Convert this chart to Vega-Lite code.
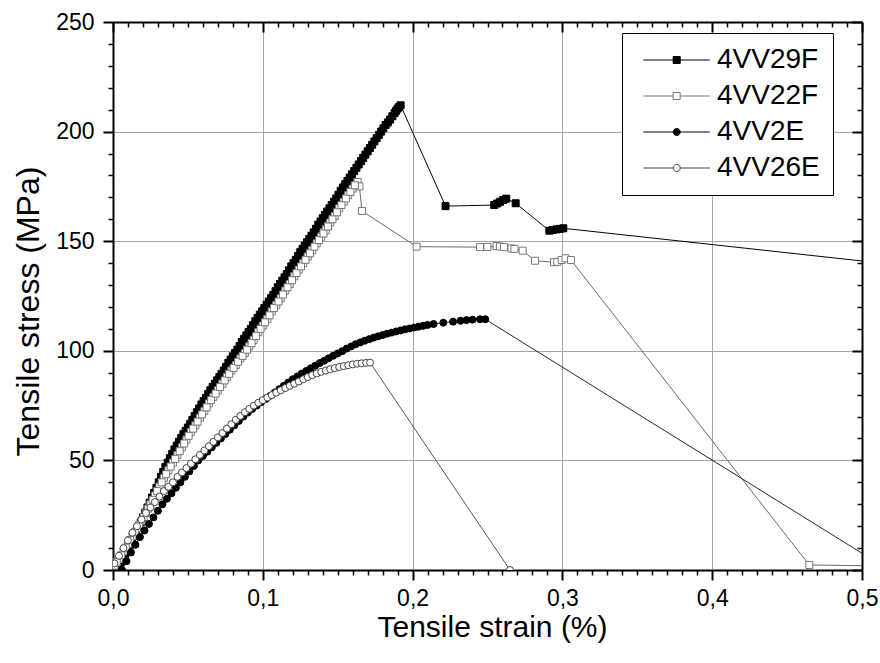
{
  "$schema": "https://vega.github.io/schema/vega-lite/v6.json",
  "width": 749,
  "height": 548,
  "autosize": {"type": "none"},
  "padding": {"left": 113, "top": 22, "right": 18, "bottom": 93},
  "background": "white",
  "config": {"view": {"stroke": null}, "font": "Liberation Sans"},
  "data": {"values": [
    {"s":"4VV29F","x":0.002,"y":0},{"s":"4VV29F","x":0.005,"y":3.5},{"s":"4VV29F","x":0.008,"y":7.5},{"s":"4VV29F","x":0.011,"y":11.5},{"s":"4VV29F","x":0.014,"y":15.5},{"s":"4VV29F","x":0.017,"y":19.5},{"s":"4VV29F","x":0.020,"y":24},{"s":"4VV29F","x":0.023,"y":28.5},{"s":"4VV29F","x":0.026,"y":33},{"s":"4VV29F","x":0.029,"y":37.5},{"s":"4VV29F","x":0.032,"y":42.5},{"s":"4VV29F","x":0.035,"y":47},{"s":"4VV29F","x":0.038,"y":51},{"s":"4VV29F","x":0.041,"y":55},{"s":"4VV29F","x":0.044,"y":58.5},{"s":"4VV29F","x":0.047,"y":62},{"s":"4VV29F","x":0.050,"y":65},{"s":"4VV29F","x":0.053,"y":68.5},{"s":"4VV29F","x":0.056,"y":72},{"s":"4VV29F","x":0.059,"y":75.5},{"s":"4VV29F","x":0.062,"y":78.5},{"s":"4VV29F","x":0.065,"y":82},{"s":"4VV29F","x":0.068,"y":85},{"s":"4VV29F","x":0.071,"y":88},{"s":"4VV29F","x":0.074,"y":91},{"s":"4VV29F","x":0.077,"y":94.5},{"s":"4VV29F","x":0.080,"y":97.5},{"s":"4VV29F","x":0.083,"y":100.5},{"s":"4VV29F","x":0.086,"y":104},{"s":"4VV29F","x":0.089,"y":107},{"s":"4VV29F","x":0.092,"y":110},{"s":"4VV29F","x":0.095,"y":113.5},{"s":"4VV29F","x":0.098,"y":116.5},{"s":"4VV29F","x":0.101,"y":119.5},{"s":"4VV29F","x":0.104,"y":122.5},{"s":"4VV29F","x":0.107,"y":125.5},{"s":"4VV29F","x":0.110,"y":129},{"s":"4VV29F","x":0.113,"y":132},{"s":"4VV29F","x":0.116,"y":135},{"s":"4VV29F","x":0.119,"y":138.5},{"s":"4VV29F","x":0.122,"y":141.5},{"s":"4VV29F","x":0.125,"y":145},{"s":"4VV29F","x":0.128,"y":148},{"s":"4VV29F","x":0.131,"y":151},{"s":"4VV29F","x":0.134,"y":154},{"s":"4VV29F","x":0.137,"y":157.5},{"s":"4VV29F","x":0.140,"y":160.5},{"s":"4VV29F","x":0.143,"y":163.5},{"s":"4VV29F","x":0.146,"y":166.5},{"s":"4VV29F","x":0.149,"y":169.5},{"s":"4VV29F","x":0.152,"y":173},{"s":"4VV29F","x":0.155,"y":176},{"s":"4VV29F","x":0.158,"y":179},{"s":"4VV29F","x":0.161,"y":182},{"s":"4VV29F","x":0.164,"y":185},{"s":"4VV29F","x":0.167,"y":188},{"s":"4VV29F","x":0.170,"y":191},{"s":"4VV29F","x":0.173,"y":194},{"s":"4VV29F","x":0.176,"y":197},{"s":"4VV29F","x":0.179,"y":200},{"s":"4VV29F","x":0.182,"y":203},{"s":"4VV29F","x":0.185,"y":205.5},{"s":"4VV29F","x":0.188,"y":208.5},{"s":"4VV29F","x":0.190,"y":210.5},{"s":"4VV29F","x":0.192,"y":212},{"s":"4VV29F","x":0.222,"y":166},{"s":"4VV29F","x":0.2545,"y":166.5},{"s":"4VV29F","x":0.2565,"y":167.2},{"s":"4VV29F","x":0.2585,"y":168},{"s":"4VV29F","x":0.2605,"y":168.8},{"s":"4VV29F","x":0.2625,"y":169.4},{"s":"4VV29F","x":0.2688,"y":167.3},{"s":"4VV29F","x":0.2913,"y":154.8},{"s":"4VV29F","x":0.2935,"y":155.1},{"s":"4VV29F","x":0.2962,"y":155.4},{"s":"4VV29F","x":0.2985,"y":155.6},{"s":"4VV29F","x":0.3006,"y":155.9},{"s":"4VV29F","x":0.62,"y":132},
    {"s":"4VV29F","x":0.0035,"y":1.7},{"s":"4VV29F","x":0.0065,"y":5.5},{"s":"4VV29F","x":0.0095,"y":9.5},{"s":"4VV29F","x":0.0125,"y":13.5},{"s":"4VV29F","x":0.0155,"y":17.5},{"s":"4VV29F","x":0.0185,"y":21.7},{"s":"4VV29F","x":0.0215,"y":26.2},{"s":"4VV29F","x":0.0245,"y":30.7},{"s":"4VV29F","x":0.0275,"y":35.2},{"s":"4VV29F","x":0.0305,"y":40},{"s":"4VV29F","x":0.0335,"y":44.7},{"s":"4VV29F","x":0.0365,"y":49},{"s":"4VV29F","x":0.0395,"y":53},{"s":"4VV29F","x":0.0425,"y":56.7},{"s":"4VV29F","x":0.0455,"y":60.2},{"s":"4VV29F","x":0.0485,"y":63.5},{"s":"4VV29F","x":0.0515,"y":66.7},{"s":"4VV29F","x":0.0545,"y":70.2},{"s":"4VV29F","x":0.0575,"y":73.7},{"s":"4VV29F","x":0.0605,"y":77},{"s":"4VV29F","x":0.0635,"y":80.2},{"s":"4VV29F","x":0.0665,"y":83.5},{"s":"4VV29F","x":0.0695,"y":86.5},{"s":"4VV29F","x":0.0725,"y":89.5},{"s":"4VV29F","x":0.0755,"y":92.7},{"s":"4VV29F","x":0.0785,"y":96},{"s":"4VV29F","x":0.0815,"y":99},{"s":"4VV29F","x":0.0845,"y":102.2},{"s":"4VV29F","x":0.0875,"y":105.5},{"s":"4VV29F","x":0.0905,"y":108.5},{"s":"4VV29F","x":0.0935,"y":111.7},{"s":"4VV29F","x":0.0965,"y":115},{"s":"4VV29F","x":0.0995,"y":118},{"s":"4VV29F","x":0.1025,"y":121},{"s":"4VV29F","x":0.1055,"y":124},{"s":"4VV29F","x":0.1085,"y":127.2},{"s":"4VV29F","x":0.1115,"y":130.5},{"s":"4VV29F","x":0.1145,"y":133.5},{"s":"4VV29F","x":0.1175,"y":136.7},{"s":"4VV29F","x":0.1205,"y":140},{"s":"4VV29F","x":0.1235,"y":143.2},{"s":"4VV29F","x":0.1265,"y":146.5},{"s":"4VV29F","x":0.1295,"y":149.5},{"s":"4VV29F","x":0.1325,"y":152.5},{"s":"4VV29F","x":0.1355,"y":155.7},{"s":"4VV29F","x":0.1385,"y":159},{"s":"4VV29F","x":0.1415,"y":162},{"s":"4VV29F","x":0.1445,"y":165},{"s":"4VV29F","x":0.1475,"y":168},{"s":"4VV29F","x":0.1505,"y":171.2},{"s":"4VV29F","x":0.1535,"y":174.5},{"s":"4VV29F","x":0.1565,"y":177.5},{"s":"4VV29F","x":0.1595,"y":180.5},{"s":"4VV29F","x":0.1625,"y":183.5},{"s":"4VV29F","x":0.1655,"y":186.5},{"s":"4VV29F","x":0.1685,"y":189.5},{"s":"4VV29F","x":0.1715,"y":192.5},{"s":"4VV29F","x":0.1745,"y":195.5},{"s":"4VV29F","x":0.1775,"y":198.5},{"s":"4VV29F","x":0.1805,"y":201.5},{"s":"4VV29F","x":0.1835,"y":204.2},{"s":"4VV29F","x":0.1865,"y":207},{"s":"4VV29F","x":0.189,"y":209.5},{"s":"4VV29F","x":0.191,"y":211.2},
    {"s":"4VV22F","x":0.001,"y":2},{"s":"4VV22F","x":0.004,"y":5},{"s":"4VV22F","x":0.007,"y":8.5},{"s":"4VV22F","x":0.010,"y":12},{"s":"4VV22F","x":0.013,"y":15.5},{"s":"4VV22F","x":0.016,"y":19},{"s":"4VV22F","x":0.019,"y":22.5},{"s":"4VV22F","x":0.022,"y":26},{"s":"4VV22F","x":0.025,"y":30},{"s":"4VV22F","x":0.028,"y":34},{"s":"4VV22F","x":0.031,"y":38},{"s":"4VV22F","x":0.034,"y":42},{"s":"4VV22F","x":0.037,"y":45.5},{"s":"4VV22F","x":0.040,"y":49},{"s":"4VV22F","x":0.043,"y":52.5},{"s":"4VV22F","x":0.046,"y":56},{"s":"4VV22F","x":0.049,"y":59.5},{"s":"4VV22F","x":0.052,"y":63},{"s":"4VV22F","x":0.055,"y":66},{"s":"4VV22F","x":0.058,"y":69.5},{"s":"4VV22F","x":0.061,"y":72.5},{"s":"4VV22F","x":0.064,"y":76},{"s":"4VV22F","x":0.067,"y":79},{"s":"4VV22F","x":0.070,"y":82},{"s":"4VV22F","x":0.073,"y":85},{"s":"4VV22F","x":0.076,"y":88},{"s":"4VV22F","x":0.079,"y":91},{"s":"4VV22F","x":0.082,"y":93.5},{"s":"4VV22F","x":0.085,"y":96.5},{"s":"4VV22F","x":0.088,"y":99},{"s":"4VV22F","x":0.091,"y":102},{"s":"4VV22F","x":0.094,"y":105},{"s":"4VV22F","x":0.097,"y":108.5},{"s":"4VV22F","x":0.100,"y":111.5},{"s":"4VV22F","x":0.103,"y":114.5},{"s":"4VV22F","x":0.106,"y":118},{"s":"4VV22F","x":0.109,"y":121},{"s":"4VV22F","x":0.112,"y":124},{"s":"4VV22F","x":0.115,"y":127.5},{"s":"4VV22F","x":0.118,"y":130.5},{"s":"4VV22F","x":0.121,"y":134},{"s":"4VV22F","x":0.124,"y":137},{"s":"4VV22F","x":0.127,"y":140},{"s":"4VV22F","x":0.130,"y":143},{"s":"4VV22F","x":0.133,"y":146},{"s":"4VV22F","x":0.136,"y":149},{"s":"4VV22F","x":0.139,"y":152},{"s":"4VV22F","x":0.142,"y":155},{"s":"4VV22F","x":0.145,"y":158.5},{"s":"4VV22F","x":0.148,"y":161.5},{"s":"4VV22F","x":0.151,"y":165},{"s":"4VV22F","x":0.154,"y":168},{"s":"4VV22F","x":0.157,"y":171},{"s":"4VV22F","x":0.160,"y":174},{"s":"4VV22F","x":0.1633,"y":177},{"s":"4VV22F","x":0.1645,"y":175},{"s":"4VV22F","x":0.1662,"y":163.8},{"s":"4VV22F","x":0.2027,"y":147.5},{"s":"4VV22F","x":0.245,"y":147.3},{"s":"4VV22F","x":0.2499,"y":147.4},{"s":"4VV22F","x":0.256,"y":147.8},{"s":"4VV22F","x":0.2583,"y":147.6},{"s":"4VV22F","x":0.261,"y":147.3},{"s":"4VV22F","x":0.266,"y":146.7},{"s":"4VV22F","x":0.268,"y":146.5},{"s":"4VV22F","x":0.2735,"y":145.7},{"s":"4VV22F","x":0.2817,"y":141.1},{"s":"4VV22F","x":0.2944,"y":140.4},{"s":"4VV22F","x":0.2966,"y":140.6},{"s":"4VV22F","x":0.2995,"y":141.4},{"s":"4VV22F","x":0.3021,"y":142.2},{"s":"4VV22F","x":0.3057,"y":141.4},{"s":"4VV22F","x":0.4648,"y":2.3},{"s":"4VV22F","x":0.55,"y":1.5},
    {"s":"4VV22F","x":0.0025,"y":3.5},{"s":"4VV22F","x":0.0055,"y":6.7},{"s":"4VV22F","x":0.0085,"y":10.2},{"s":"4VV22F","x":0.0115,"y":13.7},{"s":"4VV22F","x":0.0145,"y":17.2},{"s":"4VV22F","x":0.0175,"y":20.7},{"s":"4VV22F","x":0.0205,"y":24.2},{"s":"4VV22F","x":0.0235,"y":28},{"s":"4VV22F","x":0.0265,"y":32},{"s":"4VV22F","x":0.0295,"y":36},{"s":"4VV22F","x":0.0325,"y":40},{"s":"4VV22F","x":0.0355,"y":43.7},{"s":"4VV22F","x":0.0385,"y":47.2},{"s":"4VV22F","x":0.0415,"y":50.7},{"s":"4VV22F","x":0.0445,"y":54.2},{"s":"4VV22F","x":0.0475,"y":57.7},{"s":"4VV22F","x":0.0505,"y":61.2},{"s":"4VV22F","x":0.0535,"y":64.5},{"s":"4VV22F","x":0.0565,"y":67.7},{"s":"4VV22F","x":0.0595,"y":71},{"s":"4VV22F","x":0.0625,"y":74.2},{"s":"4VV22F","x":0.0655,"y":77.5},{"s":"4VV22F","x":0.0685,"y":80.5},{"s":"4VV22F","x":0.0715,"y":83.5},{"s":"4VV22F","x":0.0745,"y":86.5},{"s":"4VV22F","x":0.0775,"y":89.5},{"s":"4VV22F","x":0.0805,"y":92.2},{"s":"4VV22F","x":0.0835,"y":95},{"s":"4VV22F","x":0.0865,"y":97.7},{"s":"4VV22F","x":0.0895,"y":100.5},{"s":"4VV22F","x":0.0925,"y":103.5},{"s":"4VV22F","x":0.0955,"y":106.7},{"s":"4VV22F","x":0.0985,"y":110},{"s":"4VV22F","x":0.1015,"y":113},{"s":"4VV22F","x":0.1045,"y":116.2},{"s":"4VV22F","x":0.1075,"y":119.5},{"s":"4VV22F","x":0.1105,"y":122.5},{"s":"4VV22F","x":0.1135,"y":125.7},{"s":"4VV22F","x":0.1165,"y":129},{"s":"4VV22F","x":0.1195,"y":132.2},{"s":"4VV22F","x":0.1225,"y":135.5},{"s":"4VV22F","x":0.1255,"y":138.5},{"s":"4VV22F","x":0.1285,"y":141.5},{"s":"4VV22F","x":0.1315,"y":144.5},{"s":"4VV22F","x":0.1345,"y":147.5},{"s":"4VV22F","x":0.1375,"y":150.5},{"s":"4VV22F","x":0.1405,"y":153.5},{"s":"4VV22F","x":0.1435,"y":156.7},{"s":"4VV22F","x":0.1465,"y":160},{"s":"4VV22F","x":0.1495,"y":163.2},{"s":"4VV22F","x":0.1525,"y":166.5},{"s":"4VV22F","x":0.1555,"y":169.5},{"s":"4VV22F","x":0.1585,"y":172.5},{"s":"4VV22F","x":0.1615,"y":175.5},
    {"s":"4VV2E","x":0.006,"y":0},{"s":"4VV2E","x":0.009,"y":4},{"s":"4VV2E","x":0.012,"y":8},{"s":"4VV2E","x":0.015,"y":11.5},{"s":"4VV2E","x":0.018,"y":15},{"s":"4VV2E","x":0.021,"y":18},{"s":"4VV2E","x":0.024,"y":21},{"s":"4VV2E","x":0.027,"y":24},{"s":"4VV2E","x":0.030,"y":27},{"s":"4VV2E","x":0.033,"y":30},{"s":"4VV2E","x":0.036,"y":32.5},{"s":"4VV2E","x":0.039,"y":35},{"s":"4VV2E","x":0.042,"y":37.5},{"s":"4VV2E","x":0.045,"y":40},{"s":"4VV2E","x":0.048,"y":42.5},{"s":"4VV2E","x":0.051,"y":45},{"s":"4VV2E","x":0.054,"y":47.5},{"s":"4VV2E","x":0.057,"y":50},{"s":"4VV2E","x":0.060,"y":52},{"s":"4VV2E","x":0.063,"y":54},{"s":"4VV2E","x":0.066,"y":56},{"s":"4VV2E","x":0.069,"y":58},{"s":"4VV2E","x":0.072,"y":60},{"s":"4VV2E","x":0.075,"y":62},{"s":"4VV2E","x":0.078,"y":64},{"s":"4VV2E","x":0.081,"y":66},{"s":"4VV2E","x":0.084,"y":68},{"s":"4VV2E","x":0.087,"y":70},{"s":"4VV2E","x":0.090,"y":71.8},{"s":"4VV2E","x":0.093,"y":73.5},{"s":"4VV2E","x":0.096,"y":75},{"s":"4VV2E","x":0.099,"y":76.6},{"s":"4VV2E","x":0.102,"y":78},{"s":"4VV2E","x":0.105,"y":79.5},{"s":"4VV2E","x":0.108,"y":81},{"s":"4VV2E","x":0.111,"y":82.5},{"s":"4VV2E","x":0.114,"y":84},{"s":"4VV2E","x":0.117,"y":85.5},{"s":"4VV2E","x":0.120,"y":87},{"s":"4VV2E","x":0.123,"y":88.3},{"s":"4VV2E","x":0.126,"y":89.6},{"s":"4VV2E","x":0.129,"y":90.8},{"s":"4VV2E","x":0.132,"y":92},{"s":"4VV2E","x":0.135,"y":93.2},{"s":"4VV2E","x":0.138,"y":94.4},{"s":"4VV2E","x":0.141,"y":95.5},{"s":"4VV2E","x":0.144,"y":96.6},{"s":"4VV2E","x":0.147,"y":97.7},{"s":"4VV2E","x":0.150,"y":98.8},{"s":"4VV2E","x":0.153,"y":99.8},{"s":"4VV2E","x":0.156,"y":101},{"s":"4VV2E","x":0.159,"y":102},{"s":"4VV2E","x":0.162,"y":103},{"s":"4VV2E","x":0.165,"y":103.8},{"s":"4VV2E","x":0.168,"y":104.6},{"s":"4VV2E","x":0.171,"y":105.3},{"s":"4VV2E","x":0.174,"y":106},{"s":"4VV2E","x":0.177,"y":106.6},{"s":"4VV2E","x":0.180,"y":107.2},{"s":"4VV2E","x":0.183,"y":107.8},{"s":"4VV2E","x":0.186,"y":108.3},{"s":"4VV2E","x":0.189,"y":108.8},{"s":"4VV2E","x":0.192,"y":109.3},{"s":"4VV2E","x":0.195,"y":109.8},{"s":"4VV2E","x":0.198,"y":110.2},{"s":"4VV2E","x":0.201,"y":110.6},{"s":"4VV2E","x":0.204,"y":111},{"s":"4VV2E","x":0.207,"y":111.4},{"s":"4VV2E","x":0.210,"y":111.8},{"s":"4VV2E","x":0.214,"y":112.2},{"s":"4VV2E","x":0.2205,"y":112.8},{"s":"4VV2E","x":0.227,"y":113.3},{"s":"4VV2E","x":0.232,"y":113.7},{"s":"4VV2E","x":0.236,"y":114},{"s":"4VV2E","x":0.240,"y":114.2},{"s":"4VV2E","x":0.245,"y":114.4},{"s":"4VV2E","x":0.2485,"y":114.4},{"s":"4VV2E","x":0.518,"y":0},
    {"s":"4VV26E","x":0.001,"y":3},{"s":"4VV26E","x":0.004,"y":6.5},{"s":"4VV26E","x":0.007,"y":10},{"s":"4VV26E","x":0.010,"y":13.5},{"s":"4VV26E","x":0.013,"y":17},{"s":"4VV26E","x":0.016,"y":20},{"s":"4VV26E","x":0.019,"y":23},{"s":"4VV26E","x":0.022,"y":26},{"s":"4VV26E","x":0.025,"y":28.5},{"s":"4VV26E","x":0.028,"y":31},{"s":"4VV26E","x":0.031,"y":33.5},{"s":"4VV26E","x":0.034,"y":36},{"s":"4VV26E","x":0.037,"y":38},{"s":"4VV26E","x":0.040,"y":40},{"s":"4VV26E","x":0.043,"y":42.5},{"s":"4VV26E","x":0.046,"y":44.5},{"s":"4VV26E","x":0.049,"y":46.5},{"s":"4VV26E","x":0.052,"y":48.5},{"s":"4VV26E","x":0.055,"y":50.5},{"s":"4VV26E","x":0.058,"y":52.5},{"s":"4VV26E","x":0.061,"y":54.5},{"s":"4VV26E","x":0.064,"y":56.5},{"s":"4VV26E","x":0.067,"y":58.5},{"s":"4VV26E","x":0.070,"y":60.5},{"s":"4VV26E","x":0.073,"y":62.5},{"s":"4VV26E","x":0.076,"y":64.5},{"s":"4VV26E","x":0.079,"y":66.5},{"s":"4VV26E","x":0.082,"y":68.5},{"s":"4VV26E","x":0.085,"y":70.3},{"s":"4VV26E","x":0.088,"y":72},{"s":"4VV26E","x":0.091,"y":73.5},{"s":"4VV26E","x":0.094,"y":75},{"s":"4VV26E","x":0.097,"y":76.3},{"s":"4VV26E","x":0.100,"y":77.5},{"s":"4VV26E","x":0.103,"y":78.7},{"s":"4VV26E","x":0.106,"y":79.8},{"s":"4VV26E","x":0.109,"y":80.9},{"s":"4VV26E","x":0.112,"y":82},{"s":"4VV26E","x":0.115,"y":83},{"s":"4VV26E","x":0.118,"y":84},{"s":"4VV26E","x":0.121,"y":85},{"s":"4VV26E","x":0.124,"y":86},{"s":"4VV26E","x":0.127,"y":87},{"s":"4VV26E","x":0.130,"y":88},{"s":"4VV26E","x":0.133,"y":88.9},{"s":"4VV26E","x":0.136,"y":89.7},{"s":"4VV26E","x":0.139,"y":90.4},{"s":"4VV26E","x":0.142,"y":91},{"s":"4VV26E","x":0.145,"y":91.6},{"s":"4VV26E","x":0.148,"y":92.1},{"s":"4VV26E","x":0.151,"y":92.6},{"s":"4VV26E","x":0.154,"y":93},{"s":"4VV26E","x":0.157,"y":93.4},{"s":"4VV26E","x":0.160,"y":93.8},{"s":"4VV26E","x":0.163,"y":94.1},{"s":"4VV26E","x":0.166,"y":94.3},{"s":"4VV26E","x":0.169,"y":94.5},{"s":"4VV26E","x":0.1716,"y":94.6},{"s":"4VV26E","x":0.265,"y":0}
  ]},
  "resolve": {"scale": {"x": "shared", "y": "shared"}, "axis": {"x": "independent", "y": "independent"}},
  "layer": [
    {
      "mark": {"type": "line", "strokeWidth": 1, "clip": true},
      "encoding": {
        "x": {"field": "x", "type": "quantitative", "scale": {"domain": [0, 0.5], "nice": false, "zero": false},
          "axis": {"orient": "bottom", "values": [0, 0.1, 0.2, 0.3, 0.4, 0.5], "labelExpr": "replace(format(datum.value, '.1f'), '.', ',')",
            "labelFlush": false, "labelOverlap": false, "labelFontSize": 23, "labelFont": "Liberation Sans", "labelColor": "black", "labelPadding": 7,
            "tickSize": 10, "tickWidth": 2, "tickColor": "black", "domainWidth": 2, "domainColor": "black",
            "grid": true, "gridColor": "#a6a6a6", "gridWidth": 1,
            "title": "Tensile strain (%)", "titleFont": "Liberation Sans", "titleFontSize": 30, "titleFontWeight": "normal", "titleColor": "black", "titlePadding": 2, "titleX": 379}},
        "y": {"field": "y", "type": "quantitative", "scale": {"domain": [0, 250], "nice": false},
          "axis": {"orient": "left", "values": [0, 50, 100, 150, 200, 250],
            "labelFlush": false, "labelOverlap": false, "labelFontSize": 23, "labelFont": "Liberation Sans", "labelColor": "black", "labelPadding": 9,
            "tickSize": 10, "tickWidth": 2, "tickColor": "black", "domainWidth": 2, "domainColor": "black",
            "grid": true, "gridColor": "#a6a6a6", "gridWidth": 1,
            "title": "Tensile stress (MPa)", "titleFont": "Liberation Sans", "titleFontSize": 32, "titleFontWeight": "normal", "titleColor": "black", "titlePadding": 10, "titleY": 289}},
        "detail": {"field": "s", "type": "nominal"},
        "color": {"condition": [{"test": "datum.s === '4VV22F'", "value": "#6a6a6a"}, {"test": "datum.s === '4VV26E'", "value": "#555555"}, {"test": "datum.s === '4VV2E'", "value": "#262626"}], "value": "#000000"}
      }
    },
    {
      "transform": [{"filter": "datum.s === '4VV29F' || datum.s === '4VV22F'"}],
      "mark": {"type": "point", "shape": "square", "filled": true, "opacity": 1, "size": 49, "strokeWidth": 1, "clip": true},
      "encoding": {
        "x": {"field": "x", "type": "quantitative",
          "axis": {"orient": "bottom", "values": [0.01,0.02,0.03,0.04,0.05,0.06,0.07,0.08,0.09,0.11,0.12,0.13,0.14,0.15,0.16,0.17,0.18,0.19,0.21,0.22,0.23,0.24,0.25,0.26,0.27,0.28,0.29,0.31,0.32,0.33,0.34,0.35,0.36,0.37,0.38,0.39,0.41,0.42,0.43,0.44,0.45,0.46,0.47,0.48,0.49],
            "labels": false, "domain": false, "grid": false, "tickSize": 5, "tickWidth": 1.5, "tickColor": "black", "title": null}},
        "y": {"field": "y", "type": "quantitative",
          "axis": {"orient": "left", "values": [10,20,30,40,60,70,80,90,110,120,130,140,160,170,180,190,210,220,230,240],
            "labels": false, "domain": false, "grid": false, "tickSize": 5, "tickWidth": 1.5, "tickColor": "black", "title": null}},
        "fill": {"condition": {"test": "datum.s === '4VV22F'", "value": "#ffffff"}, "value": "#000000"},
        "stroke": {"condition": {"test": "datum.s === '4VV22F'", "value": "#777777"}, "value": "#000000"}
      }
    },
    {
      "transform": [{"filter": "datum.s === '4VV2E' || datum.s === '4VV26E'"}],
      "mark": {"type": "point", "shape": "circle", "filled": true, "opacity": 1, "size": 49, "strokeWidth": 1, "clip": true},
      "encoding": {
        "x": {"field": "x", "type": "quantitative", "axis": null},
        "y": {"field": "y", "type": "quantitative", "axis": null},
        "fill": {"condition": {"test": "datum.s === '4VV26E'", "value": "#ffffff"}, "value": "#000000"},
        "stroke": {"condition": {"test": "datum.s === '4VV26E'", "value": "#444444"}, "value": "#000000"}
      }
    },
    {
      "transform": [{"filter": "datum.x < -1"}],
      "mark": {"type": "point", "filled": true, "opacity": 1, "size": 49, "strokeWidth": 1},
      "encoding": {
        "x": {"field": "x", "type": "quantitative", "axis": null},
        "y": {"field": "y", "type": "quantitative", "axis": null},
        "shape": {"field": "s", "type": "nominal",
          "scale": {"domain": ["4VV29F", "4VV22F", "4VV2E", "4VV26E"],
            "range": ["M-9.5,0H-1M1,0H9.5M-1,-1H1V1H-1Z", "M-9.5,0H-1M1,0H9.5M-1,-1H1V1H-1Z", "M-9.5,0H-1M1,0H9.5M-1,0A1,1,0,1,1,1,0A1,1,0,1,1,-1,0Z", "M-9.5,0H-1M1,0H9.5M-1,0A1,1,0,1,1,1,0A1,1,0,1,1,-1,0Z"]},
          "legend": {"title": null, "orient": "none", "legendX": 509, "legendY": 11, "padding": 13,
            "strokeColor": "black", "fillColor": "white", "labelFont": "Liberation Sans", "labelFontSize": 28, "labelColor": "black",
            "symbolSize": 49, "symbolStrokeWidth": 1, "symbolOffset": 27.7, "labelOffset": 26.3, "rowPadding": 8}},
        "fill": {"field": "s", "type": "nominal",
          "scale": {"domain": ["4VV29F", "4VV22F", "4VV2E", "4VV26E"], "range": ["#000000", "#ffffff", "#000000", "#ffffff"]}},
        "stroke": {"field": "s", "type": "nominal",
          "scale": {"domain": ["4VV29F", "4VV22F", "4VV2E", "4VV26E"], "range": ["#000000", "#777777", "#000000", "#444444"]}}
      }
    },
    {
      "mark": {"type": "point", "opacity": 0},
      "encoding": {
        "x": {"field": "x", "type": "quantitative",
          "axis": {"orient": "top", "values": [0, 0.1, 0.2, 0.3, 0.4, 0.5], "labels": false, "grid": false,
            "tickSize": -10, "tickWidth": 2, "tickColor": "black", "domainWidth": 2, "domainColor": "black", "title": null}},
        "y": {"field": "y", "type": "quantitative",
          "axis": {"orient": "right", "values": [0, 50, 100, 150, 200, 250], "labels": false, "grid": false,
            "tickSize": -10, "tickWidth": 2, "tickColor": "black", "domainWidth": 2, "domainColor": "black", "title": null}}
      }
    },
    {
      "mark": {"type": "point", "opacity": 0},
      "encoding": {
        "x": {"field": "x", "type": "quantitative",
          "axis": {"orient": "top", "values": [0.01,0.02,0.03,0.04,0.05,0.06,0.07,0.08,0.09,0.11,0.12,0.13,0.14,0.15,0.16,0.17,0.18,0.19,0.21,0.22,0.23,0.24,0.25,0.26,0.27,0.28,0.29,0.31,0.32,0.33,0.34,0.35,0.36,0.37,0.38,0.39,0.41,0.42,0.43,0.44,0.45,0.46,0.47,0.48,0.49],
            "labels": false, "domain": false, "grid": false, "tickSize": -5, "tickWidth": 1.5, "tickColor": "black", "title": null}},
        "y": {"field": "y", "type": "quantitative",
          "axis": {"orient": "right", "values": [10,20,30,40,60,70,80,90,110,120,130,140,160,170,180,190,210,220,230,240],
            "labels": false, "domain": false, "grid": false, "tickSize": -5, "tickWidth": 1.5, "tickColor": "black", "title": null}}
      }
    }
  ]
}
